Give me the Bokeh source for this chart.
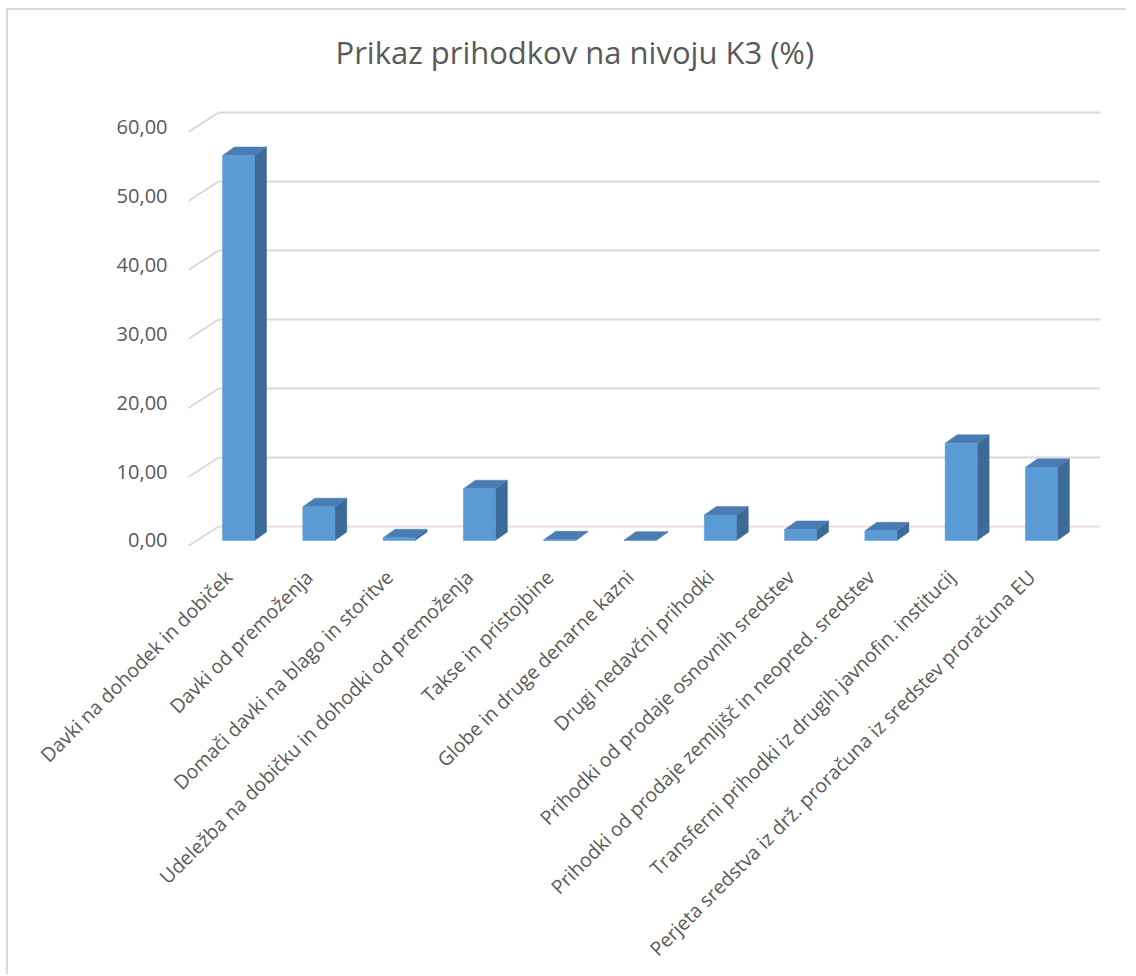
import math
from bokeh.plotting import figure
from bokeh.models import FixedTicker, Range1d, LinearAxis
from bokeh.embed import file_html
from bokeh.resources import INLINE

# ---------------- data ----------------
categories = [
    "Davki na dohodek in dobiček",
    "Davki od premoženja",
    "Domači davki na blago in storitve",
    "Udeležba na dobičku in dohodki od premoženja",
    "Takse in pristojbine",
    "Globe in druge denarne kazni",
    "Drugi nedavčni prihodki",
    "Prihodki od prodaje osnovnih sredstev",
    "Prihodki od prodaje zemljišč in neopred. sredstev",
    "Transferni prihodki iz drugih javnofin. institucij",
    "Perjeta sredstva iz drž. proračuna iz sredstev proračuna EU",
]
values = [55.8, 4.9, 0.4, 7.5, 0.1, 0.05, 3.7, 1.6, 1.4, 14.1, 10.6]
y_ticks = [0, 10, 20, 30, 40, 50, 60]
y_tick_labels = ["0,00", "10,00", "20,00", "30,00", "40,00", "50,00", "60,00"]
title_text = "Prikaz prihodkov na nivoju K3 (%)"

# ---------------- styling / geometry ----------------
TEXT = "#595959"
GRID = "#d9d9d9"
FRONT = "#5b9bd5"
SIDE = "#3d6b98"
TOP = "#4a7db3"
FONT = "Open Sans"

PX_X = 80.3   # pixels per category
PX_Y = 6.9    # pixels per value unit

half_w = 16 / PX_X
bar_dx = 12 / PX_X
bar_dy = 8.5 / PX_Y
wall_back_dx = -20 / PX_X
wall_back_dy = 14 / PX_Y
wall_front_dx = -50 / PX_X
wall_front_dy = -5.5 / PX_Y
grid_right = 10.73
label_shift = 10 / PX_X   # category labels sit slightly left of the bar centres

n = len(categories)
xs_idx = list(range(n))
x_start, x_end = -0.66, 10.86

p = figure(
    width=1120, height=966,
    x_range=Range1d(x_start, x_end), y_range=Range1d(-0.87, 64.64),
    output_backend="svg", toolbar_location=None, x_axis_location=None,
    min_border_left=177, min_border_right=18, min_border_top=84, min_border_bottom=430,
    title=title_text,
)
p.extra_x_ranges = {"labels": Range1d(x_start + label_shift, x_end + label_shift)}
p.styles = {
    "margin-left": "6px", "margin-top": "8px",
    "border-left": "2px solid #d9d9d9", "border-top": "2px solid #d9d9d9",
}
p.outline_line_color = None
p.xgrid.visible = False
p.ygrid.visible = False
p.background_fill_color = "white"
p.border_fill_color = "white"

p.title.text_font = FONT
p.title.text_font_size = "31px"
p.title.text_font_style = "normal"
p.title.text_color = TEXT
p.title.align = "left"
p.title.offset = 150
p.title.vertical_align = "top"
p.title.standoff = 40

# back wall grid lines and side wall lines
gx0 = [wall_back_dx for _ in y_ticks]
gx1 = [grid_right for _ in y_ticks]
gy = [v + wall_back_dy for v in y_ticks]
gcol = ["#eddcd4" if v == 0 else GRID for v in y_ticks]
p.segment(x0=gx0, y0=gy, x1=gx1, y1=gy, line_color=gcol, line_width=2)
sx0 = [wall_front_dx for _ in y_ticks]
sy0 = [v + wall_front_dy for v in y_ticks]
p.segment(x0=sx0, y0=sy0, x1=gx0, y1=gy, line_color=GRID, line_width=2)

# 3D bars
side_xs, side_ys, top_xs, top_ys = [], [], [], []
for i, v in zip(xs_idx, values):
    r = i + half_w
    l = i - half_w
    side_xs.append([r, r + bar_dx, r + bar_dx, r])
    side_ys.append([0, bar_dy, v + bar_dy, v])
    top_xs.append([l, r, r + bar_dx, l + bar_dx])
    top_ys.append([v, v, v + bar_dy, v + bar_dy])

p.patches(xs=side_xs, ys=side_ys, fill_color=SIDE, line_color=SIDE, line_width=0.5)
p.patches(xs=top_xs, ys=top_ys, fill_color=TOP, line_color=TOP, line_width=0.5)
p.quad(left=[i - half_w for i in xs_idx], right=[i + half_w for i in xs_idx],
       bottom=[0] * n, top=values, fill_color=FRONT, line_color=FRONT, line_width=0.5)

# axes
p.yaxis.ticker = FixedTicker(ticks=y_ticks)
p.yaxis.major_label_overrides = {t: s for t, s in zip(y_ticks, y_tick_labels)}
p.yaxis.axis_line_color = None
p.yaxis.major_tick_line_color = None
p.yaxis.minor_tick_line_color = None
p.yaxis.major_label_text_font = FONT
p.yaxis.major_label_text_font_size = "20px"
p.yaxis.major_label_text_color = TEXT
p.yaxis.major_label_standoff = 12

xaxis = LinearAxis(x_range_name="labels")
xaxis.ticker = FixedTicker(ticks=xs_idx)
xaxis.major_label_overrides = {i: c for i, c in zip(xs_idx, categories)}
xaxis.major_label_orientation = math.pi / 4
xaxis.axis_line_color = None
xaxis.major_tick_line_color = None
xaxis.minor_tick_line_color = None
xaxis.major_label_text_font = FONT
xaxis.major_label_text_font_size = "19.5px"
xaxis.major_label_text_color = TEXT
xaxis.major_label_standoff = 21
p.add_layout(xaxis, "below")

open("out.html", "w").write(file_html(p, INLINE))
